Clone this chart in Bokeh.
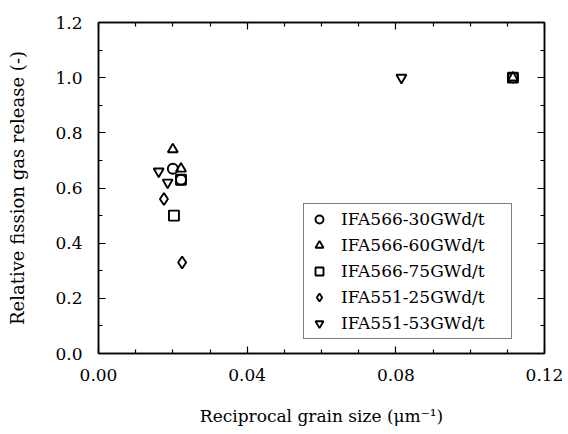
from bokeh.plotting import figure
from bokeh.models import (LinearAxis, FixedTicker, NumeralTickFormatter, Range1d,
                          Legend, LegendItem, ColumnDataSource, CustomJSTickFormatter)
from bokeh.embed import file_html
from bokeh.resources import INLINE

# Data (reciprocal grain size [1/um], relative fission gas release [-])
labels = ["IFA566-30GWd/t", "IFA566-60GWd/t", "IFA566-75GWd/t",
          "IFA551-25GWd/t", "IFA551-53GWd/t"]
markers = ["circle", "triangle", "square", "diamond", "inverted_triangle"]

x_566_30 = [0.0200, 0.0222, 0.1115]
y_566_30 = [0.67, 0.63, 1.00]
x_566_60 = [0.0200, 0.0222, 0.1115]
y_566_60 = [0.74, 0.67, 1.00]
x_566_75 = [0.0203, 0.0222, 0.1115]
y_566_75 = [0.50, 0.63, 1.00]
x_551_25 = [0.0176, 0.0225]
y_551_25 = [0.56, 0.33]
x_551_53 = [0.0162, 0.0186, 0.0815]
y_551_53 = [0.66, 0.62, 1.00]

series_x = [x_566_30, x_566_60, x_566_75, x_551_25, x_551_53]
series_y = [y_566_30, y_566_60, y_566_75, y_551_25, y_551_53]

x_ticks = [0.00, 0.04, 0.08, 0.12]
x_minor = [0.01, 0.02, 0.03, 0.05, 0.06, 0.07, 0.09, 0.10, 0.11]
y_ticks = [0.0, 0.2, 0.4, 0.6, 0.8, 1.0, 1.2]
y_minor = [0.1, 0.3, 0.5, 0.7, 0.9, 1.1]

FONT = "DejaVu Serif"

p = figure(width=568, height=434, output_backend="svg", toolbar_location=None,
           x_range=Range1d(0, 0.12), y_range=Range1d(0, 1.2),
           min_border_left=98, min_border_right=24, min_border_top=22,
           min_border_bottom=81, x_axis_location=None, y_axis_location=None)
p.xgrid.visible = False
p.ygrid.visible = False
p.outline_line_color = "black"
p.outline_line_width = 1.5
p.background_fill_color = "white"
p.border_fill_color = "white"


def style_axis(ax, ticks, minor, fmt, show_labels):
    ax.ticker = FixedTicker(ticks=ticks, minor_ticks=minor)
    ax.axis_line_color = "black"
    ax.axis_line_width = 1.5
    ax.major_tick_in = 7
    ax.major_tick_out = 0
    ax.minor_tick_in = 4
    ax.minor_tick_out = 0
    ax.major_tick_line_color = "black"
    ax.minor_tick_line_color = "black"
    ax.major_tick_line_width = 1.2
    ax.minor_tick_line_width = 1.2
    ax.major_label_text_font = FONT
    ax.major_label_text_font_size = "17px"
    ax.major_label_text_color = "black"
    ax.axis_label_text_font = FONT
    ax.axis_label_text_font_size = "17px"
    ax.axis_label_text_font_style = "normal"
    ax.axis_label_text_color = "black"
    if show_labels:
        ax.formatter = NumeralTickFormatter(format=fmt)
    else:
        ax.formatter = CustomJSTickFormatter(code="return '';")
        ax.major_label_standoff = 0
        ax.axis_label_standoff = 0


xb = LinearAxis(axis_label="Reciprocal grain size (\u03bcm\u207b\u00b9)")
style_axis(xb, x_ticks, x_minor, "0.00", True)
xb.major_label_standoff = 15
xb.axis_label_standoff = 22
p.add_layout(xb, "below")

yl = LinearAxis(axis_label="Relative fission gas release (-)")
style_axis(yl, y_ticks, y_minor, "0.0", True)
yl.axis_label_text_font_size = "18px"
yl.major_label_standoff = 16
yl.axis_label_standoff = 24
p.add_layout(yl, "left")

xt = LinearAxis()
style_axis(xt, x_ticks, x_minor, "0.00", False)
p.add_layout(xt, "above")

yr = LinearAxis()
style_axis(yr, y_ticks, y_minor, "0.0", False)
p.add_layout(yr, "right")

items = []
for lab, mk, xs, ys in zip(labels, markers, series_x, series_y):
    src = ColumnDataSource(dict(x=xs, y=ys))
    size = 12 if mk == "diamond" else 10
    r = p.scatter("x", "y", source=src, marker=mk, size=size,
                  fill_color=None, line_color="black", line_width=1.9)
    items.append(LegendItem(label=lab, renderers=[r]))

legend = Legend(items=items, location=(205, 14), orientation="vertical")
legend.label_text_font = FONT
legend.label_text_font_size = "17px"
legend.label_text_color = "black"
legend.label_height = 20
legend.label_width = 165
legend.glyph_width = 20
legend.glyph_height = 20
legend.spacing = 6
legend.padding = 5
legend.margin = 0
legend.label_standoff = 12
legend.border_line_color = "black"
legend.border_line_width = 1.5
legend.background_fill_color = "white"
legend.background_fill_alpha = 1.0
p.add_layout(legend, "center")

open("out.html", "w").write(file_html(p, INLINE))
